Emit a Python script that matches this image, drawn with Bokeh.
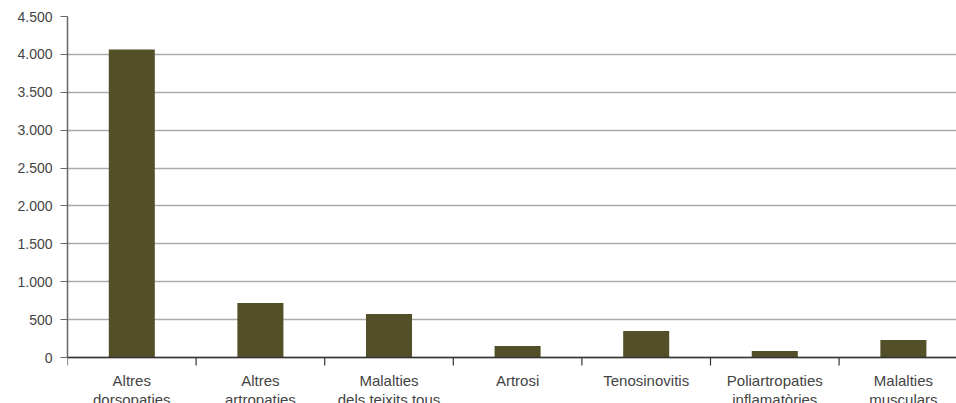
from bokeh.plotting import figure
from bokeh.models import Range1d, FixedTicker, ColumnDataSource, Span, Grid
from bokeh.core.properties import value
from bokeh.embed import file_html
from bokeh.resources import INLINE

# Musculoskeletal disease groups and their case counts
categories = [
    "Altres\ndorsopaties",
    "Altres\nartropaties",
    "Malalties\ndels teixits tous",
    "Artrosi",
    "Tenosinovitis",
    "Poliartropaties\ninflamatòries",
    "Malalties\nmusculars",
]
counts = [4065, 720, 575, 152, 350, 86, 231]
y_ticks = [0, 500, 1000, 1500, 2000, 2500, 3000, 3500, 4000, 4500]
y_tick_labels = ["0", "500", "1.000", "1.500", "2.000", "2.500", "3.000", "3.500", "4.000", "4.500"]

FONT = "Liberation Sans"
TEXT = "#444444"
Y_MAX = 4500
PX_PER_UNIT = 341 / Y_MAX      # vertical scale of the value axis
BELOW_PX = 46                  # room under the baseline for category labels

def px(n):
    """Convert a pixel distance into value units."""
    return n / PX_PER_UNIT

n = len(categories)
centers = [i + 0.5 for i in range(n)]
bounds = list(range(n + 1))
src = ColumnDataSource(dict(x=centers, top=counts))
lab_src = ColumnDataSource(dict(x=centers, y=[-px(14)] * n, text=categories))
tick_src = ColumnDataSource(dict(x=bounds, y0=[0] * (n + 1), y1=[-px(8)] * (n + 1)))

p = figure(width=956, height=403, output_backend="svg", toolbar_location=None,
           x_range=Range1d(0, 6.913), y_range=Range1d(-px(BELOW_PX), Y_MAX),
           x_axis_location=None,
           min_border_left=67, min_border_right=0, min_border_top=16, min_border_bottom=0)
p.outline_line_color = None
p.background_fill_color = "white"
p.border_fill_color = "white"

# Only horizontal grid lines
for g in p.center:
    if isinstance(g, Grid) and g.dimension == 0:
        g.grid_line_color = None
p.ygrid.grid_line_color = "#ababab"
p.ygrid.grid_line_width = 1.5
p.ygrid.ticker = FixedTicker(ticks=y_ticks)

p.vbar(x="x", top="top", width=0.358, bottom=0, source=src,
       fill_color="#535029", line_color=None)

# Y axis
ya = p.yaxis[0]
ya.bounds = (0, Y_MAX)
ya.ticker = FixedTicker(ticks=y_ticks)
ya.major_label_overrides = {t: l for t, l in zip(y_ticks, y_tick_labels)}
ya.axis_line_color = "#666666"
ya.axis_line_width = 1.5
ya.major_tick_line_color = "#666666"
ya.major_tick_out = 7
ya.major_tick_in = 0
ya.minor_tick_line_color = None
ya.major_label_text_font = FONT
ya.major_label_text_font_size = "14px"
ya.major_label_text_color = TEXT
ya.major_label_standoff = 8

# Category baseline with separator ticks at the boundaries between groups
p.add_layout(Span(location=0, dimension="width", line_color="#333333", line_width=1.5))
p.segment(x0="x", y0="y0", x1="x", y1="y1", source=tick_src,
          line_color="#333333", line_width=1.2)

# Category labels
p.text(x="x", y="y", text="text", source=lab_src, text_align="center",
       text_baseline="top", text_font=value(FONT), text_font_size="15px",
       text_color=TEXT, text_line_height=1.15)

open("out.html", "w").write(file_html(p, INLINE))
